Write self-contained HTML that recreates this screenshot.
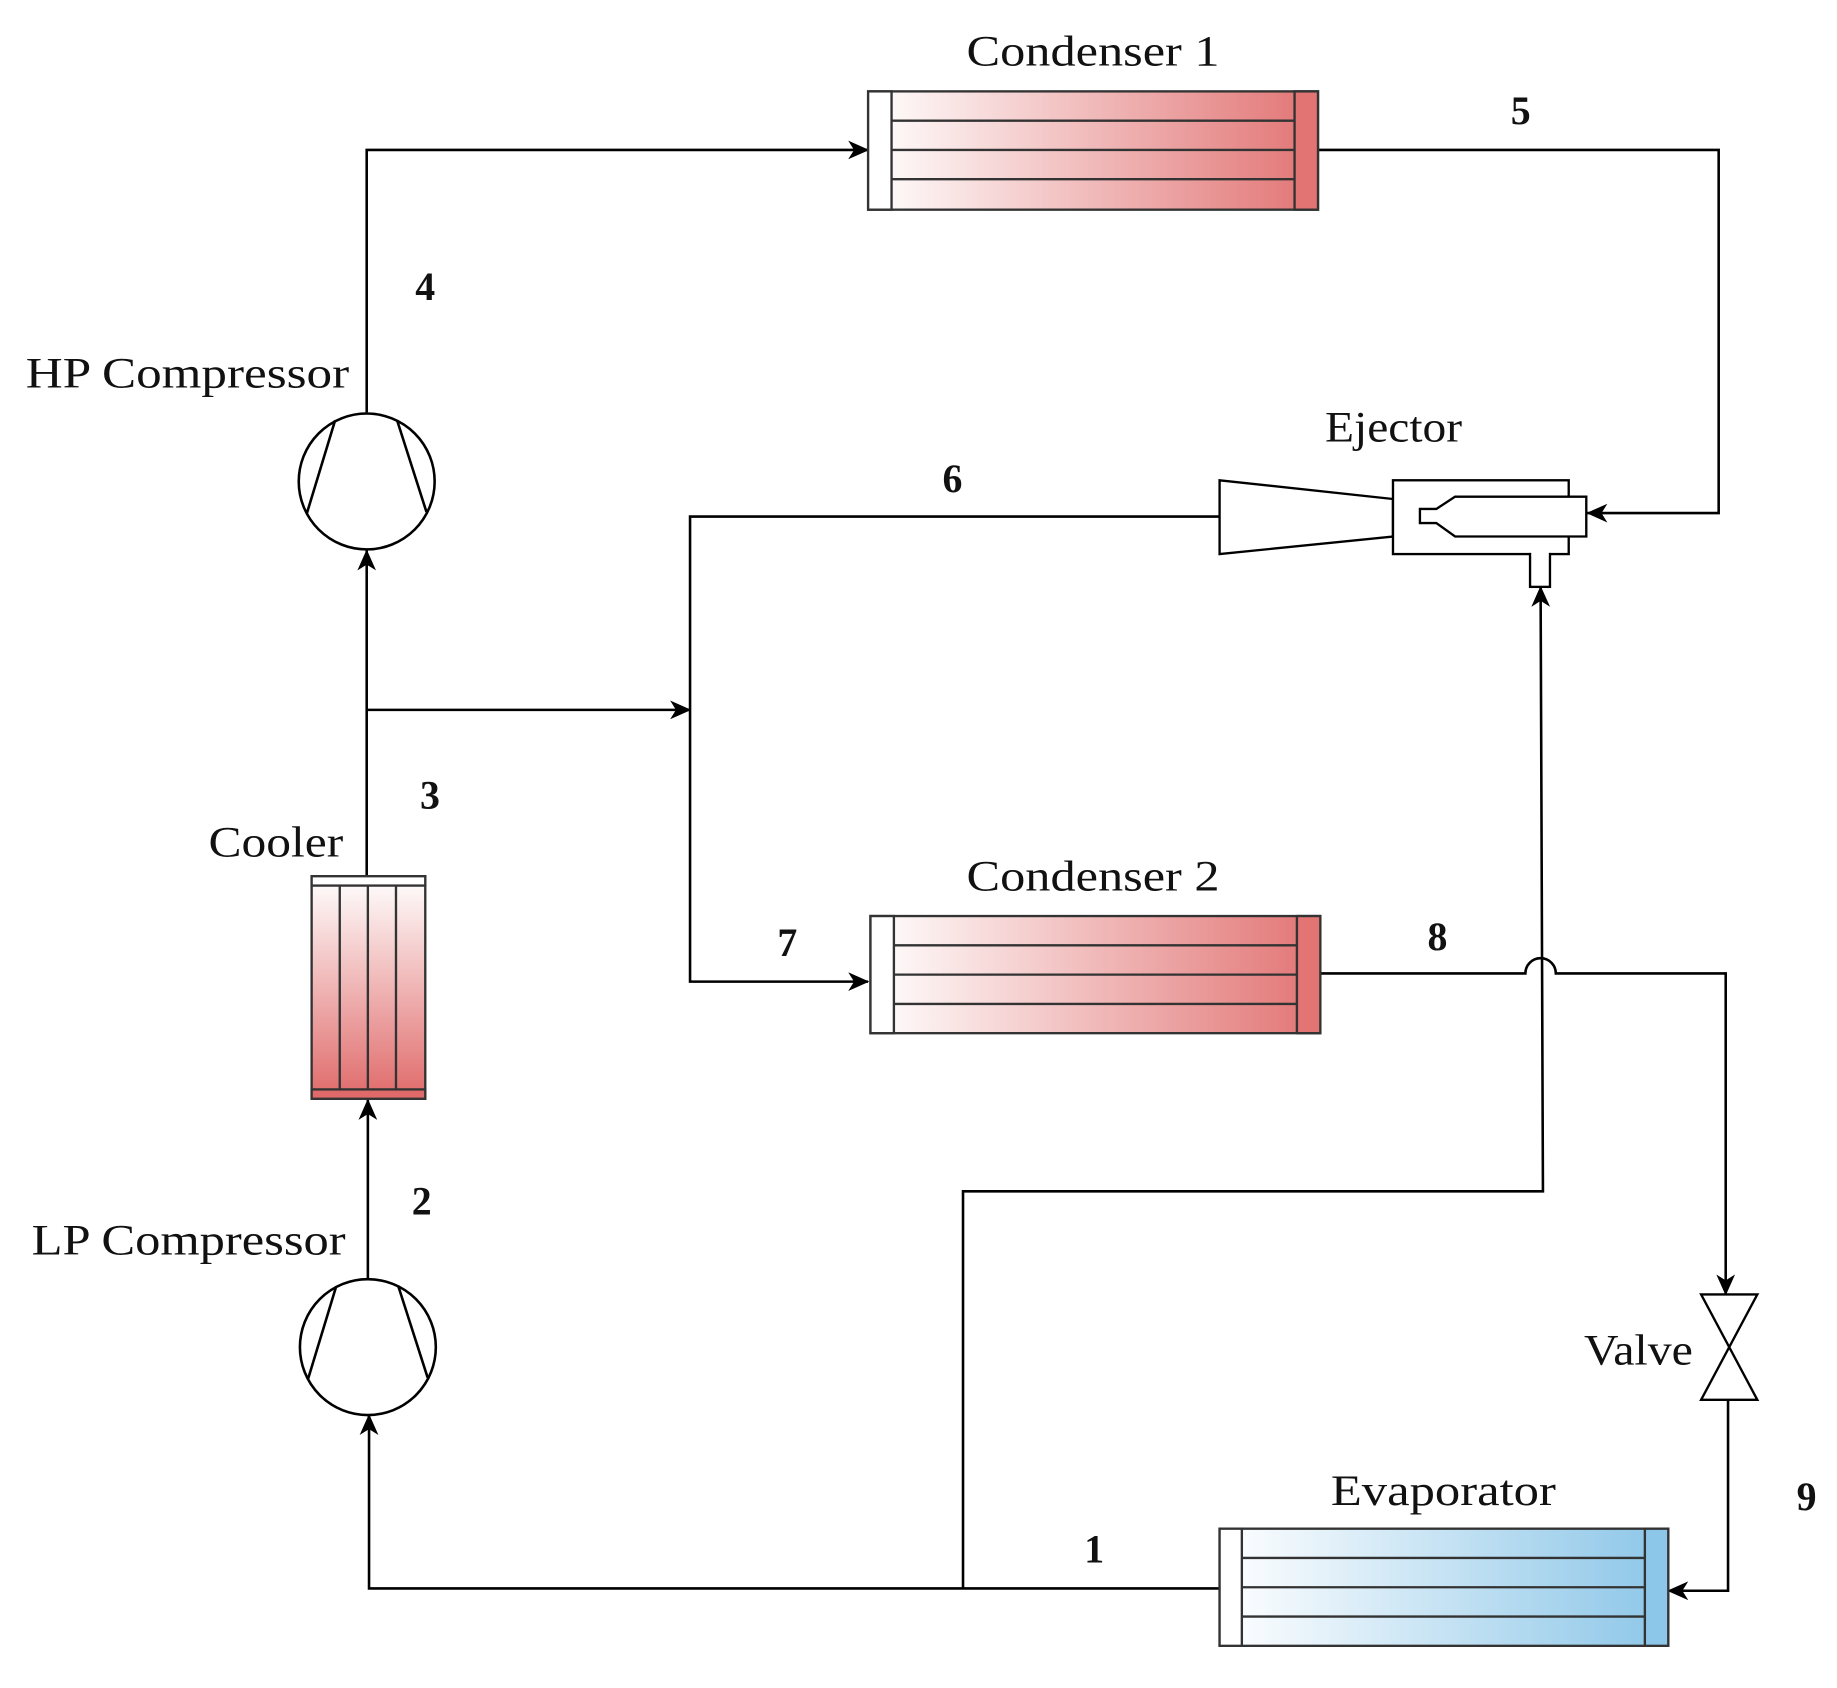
<!DOCTYPE html>
<html><head><meta charset="utf-8"><style>html,body{margin:0;padding:0;background:#fff}svg{display:block}</style></head>
<body>
<svg width="1837" height="1688" viewBox="0 0 1568 1441" preserveAspectRatio="none" xmlns="http://www.w3.org/2000/svg">
<defs>
<linearGradient id="red" x1="0" y1="0" x2="1" y2="0"><stop offset="0" stop-color="#fff"/><stop offset="1" stop-color="#e27474"/></linearGradient>
<linearGradient id="redv" x1="0" y1="0" x2="0" y2="1"><stop offset="0" stop-color="#fff"/><stop offset="1" stop-color="#e06a6a"/></linearGradient>
<linearGradient id="blue" x1="0" y1="0" x2="1" y2="0"><stop offset="0" stop-color="#fff"/><stop offset="1" stop-color="#8cc6e8"/></linearGradient>
<marker id="ar" markerWidth="18" markerHeight="16" refX="17" refY="8" orient="auto" markerUnits="userSpaceOnUse"><path d="M0,0 L18,8 L0,16 L5,8 Z" fill="#000"/></marker>
</defs>
<g fill="none" stroke="#000" stroke-width="2.2">
<polyline points="313,352 313,128 741,128" marker-end="url(#ar)"/>
<polyline points="1125,128 1467,128 1467,438 1355,438" marker-end="url(#ar)"/>
<polyline points="1041,441 589,441 589,838 741,838" marker-end="url(#ar)"/>
<polyline points="313,606 589,606" marker-end="url(#ar)"/>
<polyline points="313,748 313,470" marker-end="url(#ar)"/>
<polyline points="314,1092 314,939" marker-end="url(#ar)"/>
<path d="M1127,831 L1302,831 A13,13 0 0 1 1328,831 L1473,831 L1473,1105" marker-end="url(#ar)"/>
<polyline points="1475,1195 1475,1358 1424,1358" marker-end="url(#ar)"/>
<polyline points="1041,1356 315,1356 315,1208" marker-end="url(#ar)"/>
<polyline points="822,1356 822,1017 1317,1017 1315,501" marker-end="url(#ar)"/>
</g>
<g stroke="#333" stroke-width="2">
<rect x="741" y="78" width="384" height="101" fill="url(#red)"/>
<rect x="741" y="78" width="20" height="101" fill="#fff"/>
<rect x="1105" y="78" width="20" height="101" fill="#e27474"/>
<line x1="761" y1="103" x2="1105" y2="103"/><line x1="761" y1="128" x2="1105" y2="128"/><line x1="761" y1="153" x2="1105" y2="153"/>
</g>
<g stroke="#333" stroke-width="2">
<rect x="743" y="782" width="384" height="100" fill="url(#red)"/>
<rect x="743" y="782" width="20" height="100" fill="#fff"/>
<rect x="1107" y="782" width="20" height="100" fill="#e27474"/>
<line x1="763" y1="807" x2="1107" y2="807"/><line x1="763" y1="832" x2="1107" y2="832"/><line x1="763" y1="857" x2="1107" y2="857"/>
</g>
<g stroke="#333" stroke-width="2">
<rect x="1041" y="1305" width="383" height="100" fill="url(#blue)"/>
<rect x="1041" y="1305" width="19" height="100" fill="#fff"/>
<rect x="1404" y="1305" width="20" height="100" fill="#8cc6e8"/>
<line x1="1060" y1="1330" x2="1404" y2="1330"/><line x1="1060" y1="1355" x2="1404" y2="1355"/><line x1="1060" y1="1380" x2="1404" y2="1380"/>
</g>
<g stroke="#333" stroke-width="2">
<rect x="266" y="748" width="97" height="190" fill="url(#redv)"/>
<rect x="266" y="748" width="97" height="8" fill="#fff"/>
<rect x="266" y="930" width="97" height="8" fill="#e06a6a"/>
<line x1="290" y1="756" x2="290" y2="930"/><line x1="314" y1="756" x2="314" y2="930"/><line x1="338" y1="756" x2="338" y2="930"/>
</g>
<g fill="#fff" stroke="#000" stroke-width="2.2">
<circle cx="313" cy="411" r="58"/>
<line x1="286" y1="359" x2="262" y2="438"/><line x1="339" y1="359" x2="364" y2="437"/>
<circle cx="314" cy="1150" r="58"/>
<line x1="287" y1="1098" x2="263" y2="1177"/><line x1="340" y1="1098" x2="365" y2="1176"/>
</g>
<g fill="#fff" stroke="#000" stroke-width="2">
<polygon points="1041,410 1189,426 1189,458 1041,473"/>
<rect x="1189" y="410" width="150" height="63"/>
<rect x="1306" y="473" width="17" height="28"/>
<line x1="1307" y1="473" x2="1322" y2="473" stroke="#fff" stroke-width="3"/>
<polygon points="1212,434.5 1226,434.5 1242,424 1354,424 1354,458 1242,458 1226,446.5 1212,446.5"/>
</g>
<g fill="#fff" stroke="#000" stroke-width="2">
<polygon points="1452,1105 1500,1105 1452,1195 1500,1195"/>
</g>
<g font-family="'Liberation Serif',serif" font-size="37" fill="#111" lengthAdjust="spacingAndGlyphs">
<text x="825" y="56" textLength="216" lengthAdjust="spacingAndGlyphs">Condenser 1</text>
<text x="825" y="760" textLength="216" lengthAdjust="spacingAndGlyphs">Condenser 2</text>
<text x="1136" y="1285" textLength="192" lengthAdjust="spacingAndGlyphs">Evaporator</text>
<text x="22" y="331" textLength="276" lengthAdjust="spacingAndGlyphs">HP Compressor</text>
<text x="27" y="1071" textLength="268" lengthAdjust="spacingAndGlyphs">LP Compressor</text>
<text x="178" y="731" textLength="115" lengthAdjust="spacingAndGlyphs">Cooler</text>
<text x="1131" y="377" textLength="117" lengthAdjust="spacingAndGlyphs">Ejector</text>
<text x="1352" y="1165" textLength="93" lengthAdjust="spacingAndGlyphs">Valve</text>
</g>
<g font-family="'Liberation Serif',serif" font-size="34" font-weight="bold" fill="#111" text-anchor="middle">
<text x="363" y="256">4</text>
<text x="1298" y="106">5</text>
<text x="813" y="420">6</text>
<text x="672" y="816">7</text>
<text x="1227" y="811">8</text>
<text x="367" y="690">3</text>
<text x="360" y="1037">2</text>
<text x="934" y="1334">1</text>
<text x="1542" y="1289">9</text>
</g>
</svg>
</body></html>
